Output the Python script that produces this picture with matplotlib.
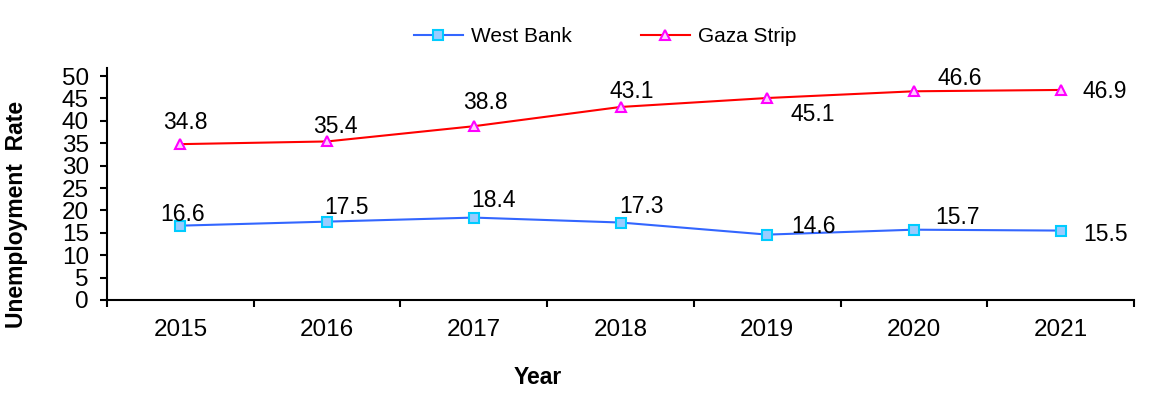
import numpy as np
import matplotlib
matplotlib.use("Agg")
import matplotlib.pyplot as plt

plt.rcParams['font.family'] = ['Liberation Sans', 'DejaVu Sans']

# data
years = ["2015", "2016", "2017", "2018", "2019", "2020", "2021"]
west_bank = [16.6, 17.5, 18.4, 17.3, 14.6, 15.7, 15.5]
gaza_strip = [34.8, 35.4, 38.8, 43.1, 45.1, 46.6, 46.9]

# label offsets in pixels (dx, dy)
wb_offsets = [(2, 11), (19, 14), (20, 17), (21, 16), (46, 8), (44, 12), (45, -4)]
gz_offsets = [(5, 22), (8, 15), (12, 24), (11, 15), (46, -16), (46, 13), (44, -2)]

fig = plt.figure(figsize=(11.54, 3.98), dpi=100)
ax = fig.add_axes([107 / 1154, 1 - 300 / 398, (1134 - 107) / 1154, (300 - 68) / 398])

x = np.arange(len(years))
ax.plot(x, west_bank, color="#3366FF", lw=1.5, marker="s", ms=7,
        mfc="#99CCFF", mec="#00CCFF", mew=1.5, label="West Bank")
ax.plot(x, gaza_strip, color="#FF0000", lw=1.5, marker="^", ms=7.5,
        mfc="#FFCCFF", mec="#FF00FF", mew=1.5, label="Gaza Strip")

for xi, v, off in zip(x, west_bank, wb_offsets):
    ax.annotate(f"{v}", (xi, v), xytext=off, textcoords="offset pixels",
                ha="center", va="center", fontsize=16.5)
for xi, v, off in zip(x, gaza_strip, gz_offsets):
    ax.annotate(f"{v}", (xi, v), xytext=off, textcoords="offset pixels",
                ha="center", va="center", fontsize=16.5)

ax.set_xlim(-0.5, len(years) - 0.5)
ax.set_ylim(0, 51.8)
ax.set_yticks(np.arange(0, 51, 5))
ax.set_xticks(np.arange(-0.5, len(years), 1.0))
ax.set_xticklabels([])
ax.set_xticks(x, minor=True)
ax.set_xticklabels(years, minor=True)
ax.tick_params(axis="x", which="minor", length=0, pad=14, labelsize=17.5)
ax.tick_params(axis="x", which="major", length=5, width=1.5, direction="out")
ax.tick_params(axis="y", length=5, width=1.5, pad=8, labelsize=17.5)

for s in ["top", "right"]:
    ax.spines[s].set_visible(False)
for s in ["left", "bottom"]:
    ax.spines[s].set_linewidth(1.5)

fig.text(17 / 1154, 1 - 214 / 398, "Unemployment  Rate", rotation=90,
         ha="center", va="center", fontsize=16.5, fontweight="bold")
fig.text(538 / 1154, 1 - 377 / 398, "Year", ha="center", va="center",
         fontsize=16.5, fontweight="bold")

fig.legend(loc="center", bbox_to_anchor=(605 / 1154, 1 - 37 / 398), ncol=2,
           frameon=False, fontsize=15, handlelength=2.35, columnspacing=3.3,
           handletextpad=0.4)

plt.savefig("out.png", dpi=100)
